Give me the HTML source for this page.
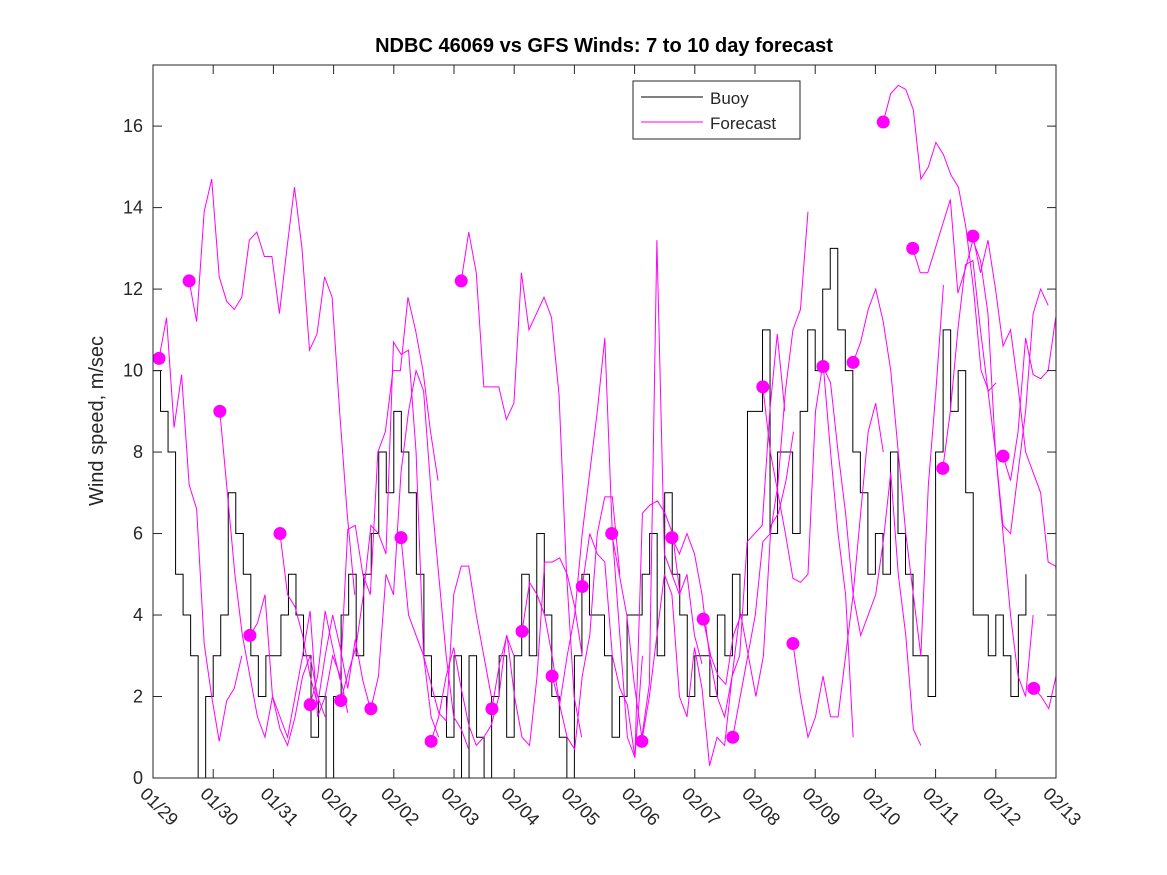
<!DOCTYPE html>
<html><head><meta charset="utf-8"><style>
body{margin:0;background:#fff;}
svg{display:block;font-family:"Liberation Sans",sans-serif;}
</style></head><body>
<svg id="chart" width="1167" height="875">
<rect x="0" y="0" width="1167" height="875" fill="#fff"/>
<text x="604" y="52" text-anchor="middle" font-size="20" font-weight="bold">NDBC 46069 vs GFS Winds: 7 to 10 day forecast</text>
<text transform="translate(103,421) rotate(-90)" text-anchor="middle" font-size="20" fill="#262626">Wind speed, m/sec</text>
<g id="plot"></g>
<g id="axes"></g>
<g>
<rect x="633" y="81" width="167" height="58" fill="#fff" stroke="#262626" stroke-width="1"/>
<line x1="641" y1="97" x2="703" y2="97" stroke="#000" stroke-width="1"/>
<text x="710" y="104" font-size="17" fill="#262626">Buoy</text>
<line x1="641" y1="122" x2="703" y2="122" stroke="#f0f" stroke-width="1"/>
<text x="710" y="129" font-size="17" fill="#262626">Forecast</text>
</g>
</svg>
<script>
const xTickLabels=["01/29","01/30","01/31","02/01","02/02","02/03","02/04","02/05","02/06","02/07","02/08","02/09","02/10","02/11","02/12","02/13"];
const yTicks=[0,2,4,6,8,10,12,14,16];
const buoyStep=0.125;
const buoyValues=[
10,9,8,5,4,3,0,2,
3,4,7,6,5,3,2,3,
3,4,5,4,3,1,2,0,
2,4,5,3,5,6,8,7,
9,8,7,5,3,2,2,1,
3,0,3,1,0,2,3,1,
3,5,3,6,4,2,1,0,
3,5,4,4,3,1,2,4,
4,5,6,3,7,5,4,2,
3,3,2,4,3,5,4,9,
9,11,6,8,8,6,9,11,
10,12,13,11,10,8,7,5,
6,5,8,6,5,3,3,2,
8,11,9,10,7,4,4,3,
4,3,2,4,5];
const fStep=0.125;
const fStarts=[0.1,0.6,1.11,1.61,2.11,2.61,3.12,3.62,4.12,4.62,5.12,5.63,6.13,6.63,7.13,7.62,8.12,8.62,9.14,9.63,10.13,10.63,11.13,11.63,12.13,12.62,13.12,13.62,14.12,14.63];
const fValues=[
[10.3,11.3,8.6,9.9,7.2,6.6,3.3,2,0.9,1.9,2.2,3],
[12.2,11.2,13.9,14.7,12.3,11.7,11.5,11.8,13.2,13.4,12.8,12.8,11.4,13,14.5,13,10.5,10.9,12.3,11.8,9,6.5,4.5],
[9.0,7,5,3.5,2.5,1.5,1,2,1.2,0.8,1.5,2.5,3,2,1.5],
[3.5,3.8,4.5,2,1.5,1,2,3,4.1,1.5,2,3,2.5,1.6],
[6,4.5,4.2,3.5,2.5,1.8,3,4,3.2,2.2,3.4,2.4,1.7],
[1.8,2.5,4.1,3.2,2.4,6.1,6.2,5,4.5,8,8.5,10,10,11.8,11,10,8.5,7.3],
[1.9,2.6,3.2,4.5,6.2,6,5.5,10.7,10.4,10.5,8,3,1.5,1],
[1.7,2.5,5,4.5,7.5,9,10,9.5,7,5,3,1.5,1.2,0.7],
[5.9,4,3.5,3,2.3,1.6,1.4,4.5,5.2,5.2,4,3,2],
[0.9,1.5,2.5,3.2,2.2,1.3,0.8,1,1.3,2,3.5,3],
[12.2,13.4,12.4,9.6,9.6,9.6,8.8,9.2,12.4,11,11.4,11.8,11.3,9.4,5,2,1],
[1.7,2.8,3.5,2,1,0.8,2.5,5.3,5.3,5.4,5,4.2,3],
[3.6,4.8,4.5,4,3,1.8,1,0.7,2.5,3.5,6,6.9,6.9,5],
[2.5,1.8,3,4,6,7.5,9,10.8,6,3.5,1,0.5,3],
[4.7,6,5.5,5.3,3,2.2,1.8,0.5,6.5,6.7,6.8,6.5,6,4.5],
[6,5,4,2.3,1,2.3,13.2,5.5,5,4.5,5,3.5,2.8],
[0.9,2,3.5,5,4.5,2,1.5,3.2,2.2,0.3,1,0.8,2.5,4],
[5.9,5.5,6,5.5,4.5,3,2,1.5,2.5,3,5.8,6,6.2,9,10.9,9],
[3.9,3,2.5,2.3,3.5,4,3,2,3,6.2,6.5,7.3,8.5],
[1,2,3,4,5.8,6,7.2,9.5,11,11.5,13.9],
[9.6,8,7,6,4.9,4.8,5,9,10.2,8,6,4.5,1],
[3.3,2,1,1.5,2.5,1.5,1.5,3,4.5,6.5,8.5,9.2,8],
[10.1,9.7,8,6.5,4.5,3.5,4,4.5,5.8,7.5,5,3.5,1.2,0.8],
[10.2,10.7,11.5,12,11.2,10,8,6,4.5,3,7.2,9.5,12.1],
[16.1,16.8,17,16.9,16.4,14.7,15,15.6,15.3,14.8,14.5,13.5,12,10,9.5,9.7],
[13,12.4,12.4,13,13.6,14.2,11.9,12.5,13.2,12.7,11.4,8,6,4,2.5,2,4],
[7.6,9,11,12.6,12.7,11,9.5,8,6.2,6,7.5,9,11.4,12,11.6],
[13.3,12.4,13.2,12,10.6,11,9.6,8,7.5,7,5.3,5.2,5.1,10,14.8,14.9,14.9,13],
[7.9,7.3,8.5,10.8,9.9,9.8,10,11.3,10.2,11,12.5],
[2.2,2,1.7,2.5,3.1,3.4,2.8,2.8,3.5,6,10,15]
];
const X0=153,X1=1056,Y0=778,Y1=65;
const xs=d=>X0+(X1-X0)*d/15;
const ys=v=>Y0-(Y0-Y1)*v/17.5;
const NS="http://www.w3.org/2000/svg";
const plot=document.getElementById('plot'),axes=document.getElementById('axes');
function mk(t,a,p){const e=document.createElementNS(NS,t);for(const k in a)e.setAttribute(k,a[k]);p.appendChild(e);return e;}
const bg=mk('rect',{x:X0,y:Y1,width:X1-X0,height:Y0-Y1,fill:'#fff'},plot);


let d='';
buoyValues.forEach((v,i)=>{const x=xs(i*buoyStep),y=ys(v);if(i===0)d+=`M${x},${y}`;else d+=`V${y}`;if(i<buoyValues.length-1)d+=`H${xs((i+1)*buoyStep)}`;});
const bl=mk('path',{d:d,fill:'none',stroke:'#000','stroke-width':1},plot);


fStarts.forEach((s,i)=>{
  const pts=fValues[i].map((v,j)=>`${xs(Math.min(15,s+j*fStep))},${ys(v)}`).join(' ');
  const pl=mk('polyline',{points:pts,fill:'none',stroke:'#f0f','stroke-width':1},plot);
  
  
});
fStarts.forEach((s,i)=>{
  const c=mk('circle',{cx:xs(s),cy:ys(fValues[i][0]),r:6.5,fill:'#f0f'},plot);
  
  
});
const box=mk('rect',{x:X0,y:Y1,width:X1-X0,height:Y0-Y1,fill:'none',stroke:'#262626','stroke-width':1},axes);


yTicks.forEach(v=>{
  const y=ys(v);
  mk('line',{x1:X0,y1:y,x2:X0+9,y2:y,stroke:'#262626'},axes);
  mk('line',{x1:X1,y1:y,x2:X1-9,y2:y,stroke:'#262626'},axes);
  const t=mk('text',{x:X0-10,y:y+6,'text-anchor':'end','font-size':18,fill:'#262626'},axes);
  t.textContent=v;
  
  
});
xTickLabels.forEach((lab,i)=>{
  const x=xs(i);
  mk('line',{x1:x,y1:Y0,x2:x,y2:Y0-9,stroke:'#262626'},axes);
  mk('line',{x1:x,y1:Y1,x2:x,y2:Y1+9,stroke:'#262626'},axes);
  const t=mk('text',{x:x-14,y:Y0+17,'font-size':18,fill:'#262626',transform:`rotate(45 ${x-14} ${Y0+17})`},axes);
  t.textContent=lab;
  
  
});
</script>
</body></html>
